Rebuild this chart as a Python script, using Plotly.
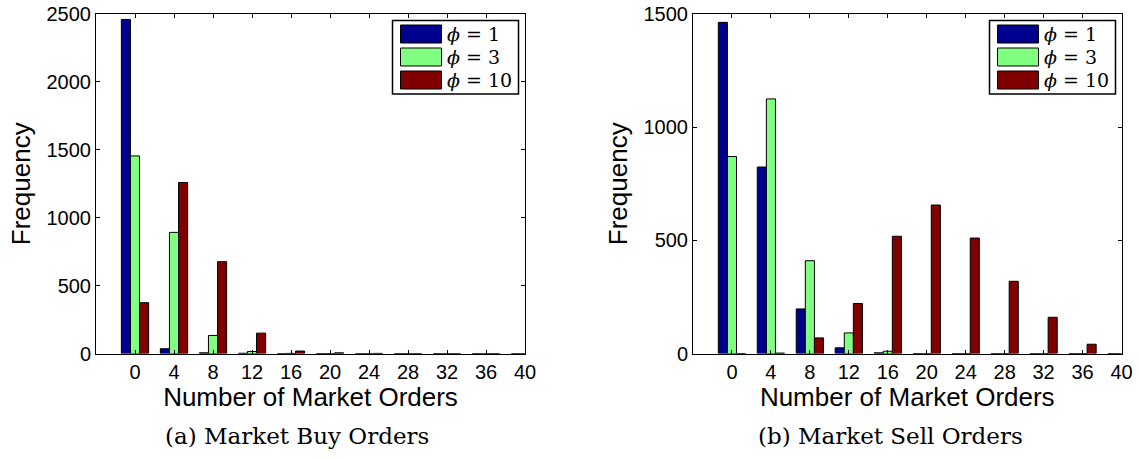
import plotly.graph_objects as go

# ---- data ----
bins = [0, 4, 8, 12, 16, 20, 24, 28, 32, 36, 40]
tick_vals = [0, 4, 8, 12, 16, 20, 24, 28, 32, 36, 40]

buy_phi1 = [2460, 35, 5, 2, 0, 0, 0, 0, 0, 0, 0]
buy_phi3 = [1455, 892, 133, 15, 1, 0, 0, 0, 0, 0, 0]
buy_phi10 = [374, 1259, 676, 150, 18, 5, 1, 0, 0, 0, 0]

sell_phi1 = [1463, 824, 197, 25, 3, 0, 0, 0, 0, 0, 0]
sell_phi3 = [870, 1125, 410, 91, 10, 0, 0, 0, 0, 0, 0]
sell_phi10 = [0, 2, 69, 221, 518, 656, 510, 319, 160, 41, 0]

series_names = ["ϕ = 1", "ϕ = 3", "ϕ = 10"]
legend_labels = ["<i>ϕ</i> = 1", "<i>ϕ</i> = 3", "<i>ϕ</i> = 10"]
colors = ["#00008F", "#80FF80", "#800000"]
captions = ["(a) Market Buy Orders", "(b) Market Sell Orders"]

W, H = 1138, 458
SANS = "Liberation Sans, Arial, sans-serif"
SERIF = "DejaVu Serif, Liberation Serif, serif"

fig = go.Figure()
for xa, ya, data in [("x", "y", [buy_phi1, buy_phi3, buy_phi10]),
                     ("x2", "y2", [sell_phi1, sell_phi3, sell_phi10])]:
    for name, vals, col in zip(series_names, data, colors):
        fig.add_trace(go.Bar(
            x=bins, y=vals, name=name, xaxis=xa, yaxis=ya,
            marker=dict(color=col, line=dict(color="black", width=1)),
            showlegend=False, offsetgroup=name,
        ))

def px_x(p):
    return p / W

def px_y(p):
    return 1 - p / H

xdom1 = [px_x(96), px_x(525)]
xdom2 = [px_x(693), px_x(1121.5)]
ydom = [px_y(353.5), px_y(14)]

axis_common = dict(
    showline=True, linecolor="black", linewidth=1, mirror="ticks",
    ticks="inside", ticklen=4, tickwidth=1, tickcolor="black",
    showgrid=False, zeroline=False,
    tickfont=dict(family=SANS, size=20, color="black"),
)

fig.update_layout(
    width=W, height=H,
    margin=dict(l=0, r=0, t=0, b=0),
    paper_bgcolor="white", plot_bgcolor="white",
    barmode="group", bargap=0.3, bargroupgap=0,
    showlegend=False,
    xaxis=dict(domain=xdom1, anchor="y", range=[-4, 40], tickmode="array",
               tickvals=tick_vals, ticktext=[str(v) for v in tick_vals],
               title=dict(text="Number of Market Orders",
                          font=dict(family=SANS, size=26, color="black"), standoff=5),
               automargin=False, **axis_common),
    yaxis=dict(domain=ydom, anchor="x", range=[0, 2500], tickmode="linear", dtick=500,
               title=dict(text="Frequency",
                          font=dict(family=SANS, size=26, color="black"), standoff=8),
               automargin=False, **axis_common),
    xaxis2=dict(domain=xdom2, anchor="y2", range=[-4, 40], tickmode="array",
                tickvals=tick_vals, ticktext=[str(v) for v in tick_vals],
                title=dict(text="Number of Market Orders",
                           font=dict(family=SANS, size=26, color="black"), standoff=5),
                automargin=False, **axis_common),
    yaxis2=dict(domain=ydom, anchor="x2", range=[0, 1500], tickmode="linear", dtick=500,
                title=dict(text="Frequency",
                           font=dict(family=SANS, size=26, color="black"), standoff=8),
                automargin=False, **axis_common),
)

# captions
for cx, cap in zip([297, 890], captions):
    fig.add_annotation(x=px_x(cx), y=px_y(436), xref="paper", yref="paper",
                       text=cap, showarrow=False, xanchor="center", yanchor="middle",
                       font=dict(family=SERIF, size=23, color="black"))

# legends (drawn as boxes with swatches)
for box_left in [392.5, 989.5]:
    box_right = box_left + 126
    fig.add_shape(type="rect", xref="paper", yref="paper",
                  x0=px_x(box_left), x1=px_x(box_right), y0=px_y(94), y1=px_y(20.5),
                  line=dict(color="black", width=1.5), fillcolor="white", layer="above")
    for i, (lab, col) in enumerate(zip(legend_labels, colors)):
        cy = 34 + 23 * i
        sx0 = box_left + 8
        fig.add_shape(type="rect", xref="paper", yref="paper",
                      x0=px_x(sx0), x1=px_x(sx0 + 41), y0=px_y(cy + 9), y1=px_y(cy - 9),
                      line=dict(color="black", width=1), fillcolor=col, layer="above")
        fig.add_annotation(x=px_x(sx0 + 44), y=px_y(cy), xref="paper", yref="paper",
                           text=lab, showarrow=False, xanchor="left", yanchor="middle",
                           font=dict(family=SERIF, size=19, color="black"))

fig.write_html("out.html")
